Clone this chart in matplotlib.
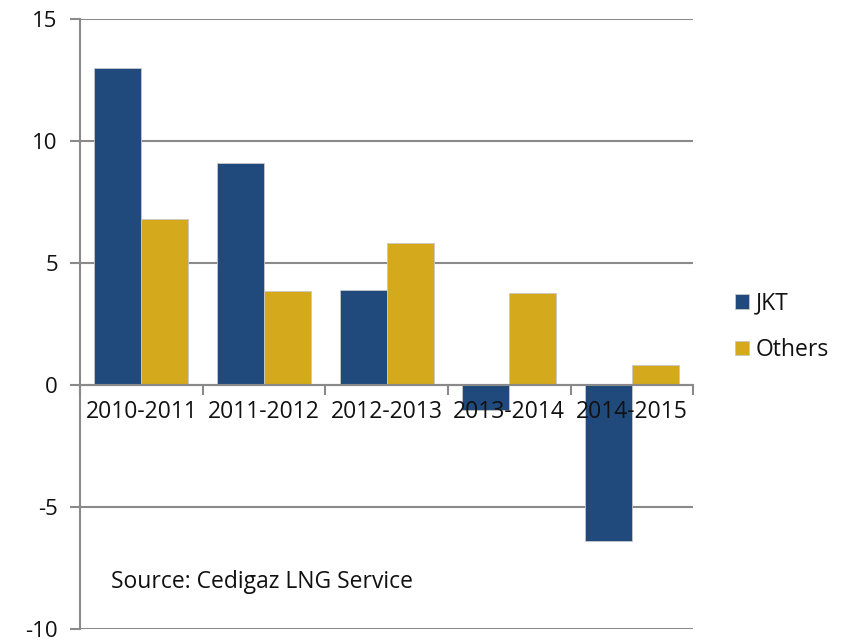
import numpy as np
import matplotlib.pyplot as plt

periods = ['2010-2011', '2011-2012', '2012-2013', '2013-2014', '2014-2015']
jkt = [13.0, 9.1, 3.9, -1.05, -6.4]
others = [6.8, 3.85, 5.8, 3.75, 0.8]

plt.rcParams['font.family'] = ['Open Sans', 'DejaVu Sans']
plt.rcParams['axes.unicode_minus'] = False

fig = plt.figure(figsize=(8.44, 6.43), dpi=100)
ax = fig.add_axes([0.0948, 0.0225, 0.7265, 0.948])

x = np.arange(len(periods))
w = 0.383
ax.bar(x - w / 2, jkt, w, color='#204A7C', edgecolor='#c8c8c8', linewidth=0.6, label='JKT', zorder=3)
ax.bar(x + w / 2, others, w, color='#D4AA1C', edgecolor='#c8c8c8', linewidth=0.6, label='Others', zorder=3)

ax.set_xlim(-0.5, len(periods) - 0.5)
ax.set_ylim(-10, 15)
yt = [-10, -5, 0, 5, 10, 15]
ax.set_yticks(yt)
for v in yt:
    ax.axhline(v, color='#8a8a8a', linewidth=1.5, zorder=1)

for s in ['top', 'right']:
    ax.spines[s].set_visible(False)
ax.spines['left'].set_color('#8a8a8a')
ax.spines['left'].set_linewidth(1.5)
ax.spines['bottom'].set_position(('data', 0))
ax.spines['bottom'].set_color('#8a8a8a')
ax.spines['bottom'].set_linewidth(1.5)
ax.spines['bottom'].set_zorder(4)
ax.xaxis.set_zorder(5)

ax.set_xticks(x)
ax.set_xticklabels(periods, fontsize=16.5, color='#111111')
ax.tick_params(axis='x', length=0, pad=11)
ax.set_xticks(np.arange(len(periods) + 1) - 0.5, minor=True)
ax.tick_params(axis='x', which='minor', length=7, width=1.5, color='#8a8a8a', direction='out')
ax.tick_params(axis='y', length=7, width=1.5, color='#8a8a8a', labelsize=16,
               labelcolor='#111111', pad=9)

ax.text(0.05, 0.066, 'Source: Cedigaz LNG Service', transform=ax.transAxes, fontsize=16.5, color='#111111')

ax.legend(loc='center left', bbox_to_anchor=(1.035, 0.495), frameon=False, fontsize=16.5,
          handlelength=0.6, handleheight=0.6, handletextpad=0.3, labelspacing=1.0,
          labelcolor='#111111')

fig.savefig('out.png', dpi=100)
